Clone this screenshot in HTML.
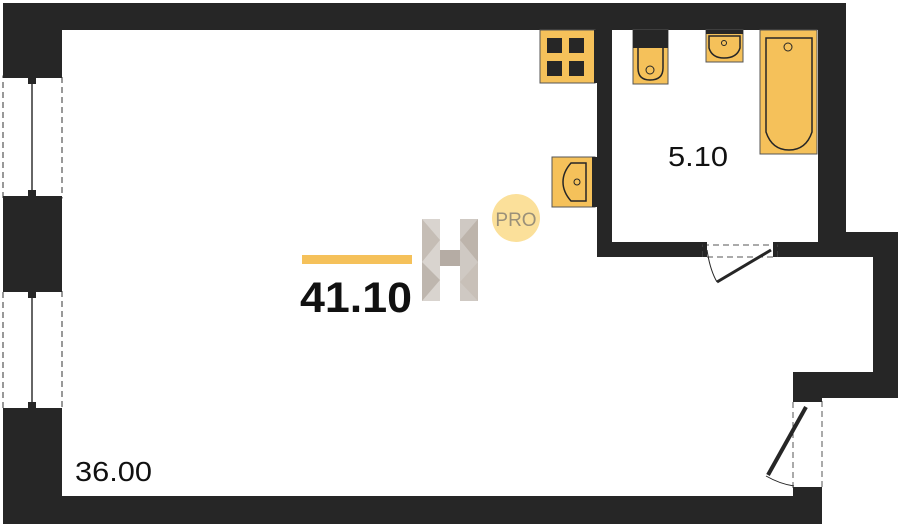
<!DOCTYPE html>
<html><head><style>body{margin:0;background:#fff}svg{display:block}</style></head><body>
<svg width="900" height="530" viewBox="0 0 900 530" xmlns="http://www.w3.org/2000/svg" font-family="Liberation Sans, DejaVu Sans, sans-serif">
<g fill="#262626">
<rect x="3" y="3" width="843" height="27"/>
<rect x="3" y="3" width="59" height="73"/>
<rect x="3" y="198" width="59" height="92"/>
<rect x="3" y="410" width="59" height="114"/>
<rect x="3" y="496" width="819" height="28"/>
<rect x="818" y="3" width="28" height="254"/>
<rect x="818" y="232" width="80" height="25"/>
<rect x="873" y="232" width="25" height="166"/>
<rect x="793" y="372" width="105" height="26"/>
<rect x="793" y="372" width="29" height="28"/>
<rect x="793" y="490" width="29" height="34"/>
<rect x="597" y="30" width="15" height="227"/>
<rect x="597" y="242" width="106" height="15"/>
<rect x="777" y="242" width="41" height="15"/>
</g>
<g stroke="#333" fill="none">
<rect x="3" y="76" width="59" height="122" stroke-dasharray="6,4" stroke-width="1"/>
<rect x="3" y="290" width="59" height="120" stroke-dasharray="6,4" stroke-width="1"/>
<line x1="32" y1="80" x2="32" y2="194" stroke-width="1.5"/>
<line x1="32" y1="294" x2="32" y2="406" stroke-width="1.5"/>
</g>
<g fill="#262626">
<rect x="3" y="74" width="59" height="4"/><rect x="3" y="196" width="59" height="4"/>
<rect x="3" y="288" width="59" height="4"/><rect x="3" y="408" width="59" height="4"/>
<rect x="28" y="78" width="8" height="6"/><rect x="28" y="190" width="8" height="6"/>
<rect x="28" y="292" width="8" height="6"/><rect x="28" y="402" width="8" height="6"/>
</g>
<rect x="793" y="400" width="29" height="90" fill="none" stroke="#555" stroke-dasharray="6,4"/>
<rect x="793" y="398" width="29" height="4" fill="#262626"/>
<rect x="793" y="487" width="29" height="4" fill="#262626"/>
<line x1="806" y1="407" x2="768" y2="475" stroke="#262626" stroke-width="4"/>
<path d="M766 476 Q780 484 794 486" fill="none" stroke="#262626"/>
<rect x="703" y="245" width="74" height="12" fill="none" stroke="#555" stroke-dasharray="6,4"/>
<rect x="703" y="242" width="4" height="15" fill="#262626"/><rect x="773" y="242" width="4" height="15" fill="#262626"/>
<line x1="771" y1="250" x2="717" y2="282" stroke="#262626" stroke-width="3"/>
<path d="M707 250 Q710 270 717 282" fill="none" stroke="#262626"/>
<rect x="540" y="30" width="55" height="53" fill="#f5c15a" stroke="#555"/>
<rect x="594" y="30" width="3" height="53" fill="#262626"/>
<g fill="#262626"><rect x="547" y="38" width="15" height="15"/><rect x="569" y="38" width="15" height="15"/><rect x="547" y="61" width="15" height="15"/><rect x="569" y="61" width="15" height="15"/></g>
<rect x="552" y="157" width="43" height="50" fill="#f5c15a" stroke="#555"/>
<rect x="592" y="157" width="5" height="50" fill="#262626"/>
<path d="M586 163 H571 Q563 172 563 182 Q563 192 571 201 H586 Z" fill="none" stroke="#262626" stroke-width="1.5"/>
<circle cx="577" cy="182" r="3" fill="none" stroke="#262626"/>
<rect x="633" y="30" width="35" height="54" fill="#f5c15a" stroke="#555"/>
<rect x="633" y="30" width="35" height="18" fill="#262626"/>
<path d="M638 48 V68 Q638 80 650 80 Q663 80 663 68 V48" fill="none" stroke="#262626" stroke-width="1.5"/>
<circle cx="650" cy="70" r="4" fill="none" stroke="#262626"/>
<rect x="706" y="30" width="37" height="32" fill="#f5c15a" stroke="#555"/>
<rect x="706" y="30" width="37" height="4" fill="#262626"/>
<path d="M709 36 V48 Q712 58 724 58 Q737 58 740 48 V36 Z" fill="none" stroke="#262626" stroke-width="1.5"/>
<circle cx="724" cy="43" r="2.5" fill="none" stroke="#262626"/>
<rect x="760" y="30" width="57" height="124" fill="#f5c15a" stroke="#555"/>
<path d="M766 38 H812 V132 Q806 150 789 150 Q772 150 766 132 Z" fill="none" stroke="#262626" stroke-width="1.5"/>
<circle cx="788" cy="47" r="4" fill="none" stroke="#262626"/>
<circle cx="516" cy="218" r="24" fill="#fbe09a"/>
<text x="516" y="226" font-size="19" fill="#9a9079" text-anchor="middle">PRO</text>
<g>
<rect x="422" y="219" width="18" height="82" fill="#d9d4cf"/>
<rect x="460" y="219" width="18" height="82" fill="#cfc9c3"/>
<rect x="440" y="250" width="20" height="16" fill="#b5aca4"/>
<polygon points="422,219 440,240 422,262" fill="#c5bdb5"/>
<polygon points="478,219 460,240 478,262" fill="#bdb4ab"/>
<polygon points="422,262 440,280 422,301" fill="#beb6ae"/>
<polygon points="478,262 460,282 478,301" fill="#c8c0b8"/>
</g>
<rect x="302" y="255" width="110" height="9" fill="#f5c15a"/>
<text x="300" y="312" font-size="43" font-weight="bold" fill="#111" textLength="112" lengthAdjust="spacingAndGlyphs">41.10</text>
<text x="668" y="166" font-size="28" fill="#111" textLength="60" lengthAdjust="spacingAndGlyphs">5.10</text>
<text x="75" y="481" font-size="28" fill="#111" textLength="77" lengthAdjust="spacingAndGlyphs">36.00</text>
</svg>
</body></html>
